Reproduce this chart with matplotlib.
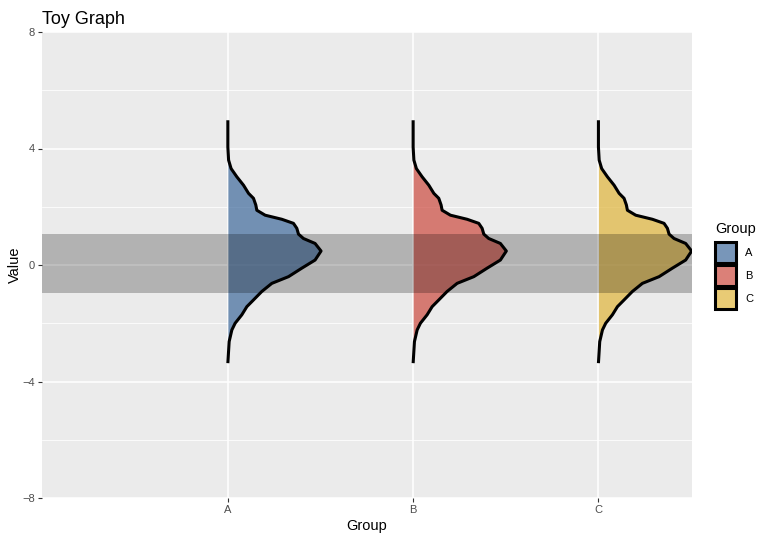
import matplotlib.pyplot as plt
from matplotlib.patches import Rectangle
import numpy as np

# groups and fill colours
groups = ['A', 'B', 'C']
colors = ['#3F6A9C', '#CD4A3F', '#E0B53B']

# half-violin profile (same for every group)
profile_y = [4.97, 4.05, 3.60, 3.31, 3.03, 2.74, 2.46, 2.29, 2.06, 1.88, 1.71,
             1.57, 1.43, 1.26, 1.06, 0.91, 0.74, 0.48, 0.17, -0.11, -0.40,
             -0.63, -0.91, -1.20, -1.43, -1.71, -2.00, -2.23, -2.63, -3.37]
profile_density = [0.0, 0.0, 0.008, 0.035, 0.096, 0.168, 0.222, 0.275, 0.300,
                   0.311, 0.40, 0.579, 0.704, 0.74, 0.758, 0.811, 0.936, 1.0,
                   0.936, 0.793, 0.651, 0.472, 0.364, 0.275, 0.204, 0.150,
                   0.078, 0.043, 0.014, 0.0]
half_width = 0.503

# shaded band (mean +/- sd)
band_low, band_high = -0.95, 1.06

plt.rcParams['font.family'] = ['Liberation Sans', 'DejaVu Sans']

fig = plt.figure(figsize=(7.7, 5.42), dpi=100)
ax = fig.add_axes([42/770, 1-498/542, 650/770, 466/542])
ax.set_facecolor('#EBEBEB')
for s in ax.spines.values():
  s.set_visible(False)

y = np.array(profile_y)
w = np.array(profile_density) * half_width
for i, (g, c) in enumerate(zip(groups, colors)):
  xpos = i + 1
  ax.fill_betweenx(y, xpos, xpos + w, color=c, alpha=0.7, lw=0, zorder=2)
  ax.plot(xpos + w, y, color='black', lw=2.2, solid_joinstyle='round',
          solid_capstyle='butt', zorder=3)

ax.axhspan(band_low, band_high, color='black', alpha=0.24, lw=0, zorder=4)

ax.set_xlim(-0.003, 3.505)
ax.set_ylim(-8, 8)
ax.set_xticks([1, 2, 3])
ax.set_xticklabels(groups)
ax.set_yticks([-8, -4, 0, 4, 8])
ax.set_yticks([-6, -2, 2, 6], minor=True)
ax.grid(True, which='major', color='white', lw=1.1, zorder=0)
ax.grid(True, which='minor', axis='y', color='white', lw=0.55, zorder=0)
ax.set_axisbelow(True)
ax.tick_params(axis='both', which='major', length=3, width=0.8, color='#333333',
               labelsize=8, labelcolor='#4D4D4D', pad=2)
ax.tick_params(axis='y', which='minor', length=0)

ax.set_xlabel('Group', fontsize=10.5, labelpad=3)
ax.set_ylabel('Value', fontsize=10.5, labelpad=0)
ax.set_title('Toy Graph', loc='left', fontsize=13, pad=6)

# legend drawn by hand to mimic ggplot keys
fig.text(715/770, 1-229/542, 'Group', fontsize=10.5, va='center', ha='left')
for i, (g, c) in enumerate(zip(groups, colors)):
  top = 242 + i*23
  fig.add_artist(Rectangle((715/770, 1-(top+21)/542), 21/770, 21/542,
                           transform=fig.transFigure, facecolor=c, alpha=0.7,
                           lw=0))
  fig.add_artist(Rectangle((715/770, 1-(top+21)/542), 21/770, 21/542,
                           transform=fig.transFigure, facecolor='none',
                           edgecolor='black', lw=2.2))
  fig.text(745/770, 1-(top+10.5)/542, g, fontsize=8, va='center', ha='left')

fig.savefig('out.png', dpi=100)
